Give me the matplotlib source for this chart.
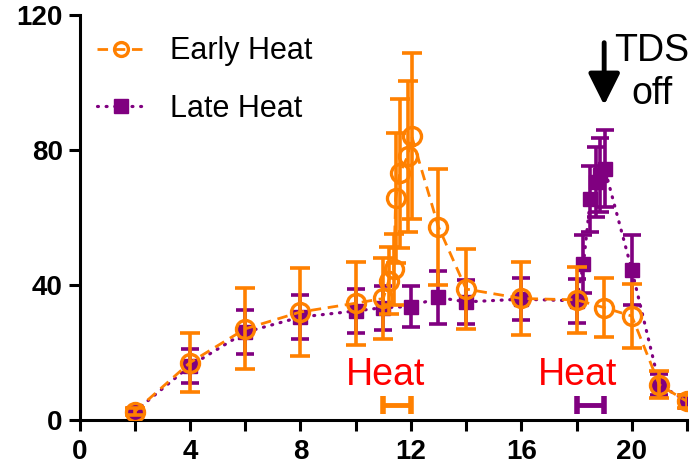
import matplotlib
matplotlib.use("Agg")
import matplotlib.pyplot as plt
from matplotlib.lines import Line2D

plt.rcParams['font.family'] = ['Liberation Sans', 'DejaVu Sans']

# Early heat series (heat applied 11-12)
early_x = [2, 4, 6, 8, 10, 11, 11.2, 11.38, 11.45, 11.6, 11.88, 12.03, 13, 14, 16, 18, 19, 20, 21, 22]
early_y = [2.5, 17, 27, 32, 34.6, 36, 41.3, 44.6, 65.7, 73.1, 78.1, 84.1, 57.2, 38.8, 36, 35.6, 33.3, 30.8, 10.4, 5.5]
early_err = [1, 8.7, 12, 13, 12.3, 12, 10, 10.6, 19.3, 22, 22.4, 24.6, 17.2, 11.8, 10.8, 9.7, 8.8, 9.6, 4, 2]

# Late heat series (heat applied 18-19)
late_x = [2, 4, 6, 8, 10, 11, 12, 13, 14, 16, 18, 18.25, 18.5, 18.7, 18.85, 19.02, 20, 21, 22]
late_y = [2.5, 16, 26, 30.5, 32.3, 33.3, 33.6, 36.3, 35, 35.8, 35.3, 46.3, 65.5, 70.5, 72.5, 74.5, 44.5, 10.5, 5.5]
late_err = [1, 5, 6.5, 6.5, 6.5, 6.5, 6, 7.8, 6.6, 6.2, 6.5, 8.6, 9.8, 10.5, 11, 11.5, 10.4, 3, 2]

# Heat windows
early_heat = (11, 12)
late_heat = (18, 19)
heat_bar_y = 4.5

x_ticks = [0, 4, 8, 12, 16, 20]
x_minor = [2, 6, 10, 14, 18, 22]
y_ticks = [0, 40, 80, 120]

ORANGE = '#FF8000'
PURPLE = '#800080'

fig = plt.figure(figsize=(6.95, 4.72), dpi=100)
ax = fig.add_axes([0.1144, 0.1102, 0.8741, 0.8580])

# Late heat (drawn first, sits underneath)
ax.errorbar(late_x, late_y, yerr=late_err, fmt='none', ecolor=PURPLE,
            elinewidth=2.6, capsize=6.5, capthick=2.6, zorder=2)
ax.plot(late_x, late_y, color=PURPLE, lw=2.3, dashes=(0.3, 2.4),
        dash_capstyle='round', marker='s', ms=10, mfc=PURPLE, mec=PURPLE, zorder=3)

# Early heat
ax.errorbar(early_x, early_y, yerr=early_err, fmt='none', ecolor=ORANGE,
            elinewidth=2.6, capsize=7, capthick=2.6, zorder=4)
ax.plot(early_x, early_y, color=ORANGE, lw=2.0, dashes=(3.8, 2.4),
        marker='o', ms=13, mfc='none', mec=ORANGE, mew=2.4, zorder=5)

# Heat windows
for (a, b), c in [(early_heat, ORANGE), (late_heat, PURPLE)]:
    ax.errorbar([(a + b) / 2], [heat_bar_y], xerr=[(b - a) / 2], fmt='none',
                ecolor=c, elinewidth=3.5, capsize=6.5, capthick=4, zorder=4)
ax.text(11.1, 10.4, 'Heat', color='#FF0000', fontsize=27, ha='center', va='baseline')
ax.text(18.05, 10.4, 'Heat', color='#FF0000', fontsize=27, ha='center', va='baseline')

# TDS off marker
ax.annotate('', xy=(19.0, 93.3), xytext=(19.0, 111.8),
            arrowprops=dict(arrowstyle='-|>,head_length=0.4,head_width=0.2',
                            color='black', lw=3.5, mutation_scale=48,
                            shrinkA=0, shrinkB=0), annotation_clip=False)
ax.text(20.72, 106.5, 'TDS', fontsize=27, ha='center', va='baseline')
ax.text(20.72, 93.5, 'off', fontsize=27, ha='center', va='baseline')

ax.set_xlim(0, 22)
ax.set_ylim(0, 120)
ax.set_xticks(x_ticks)
ax.set_xticks(x_minor, minor=True)
ax.set_yticks(y_ticks)
ax.tick_params(axis='both', which='major', width=2.2, length=8, labelsize=20)
ax.tick_params(axis='x', which='major', pad=6)
ax.tick_params(axis='y', which='major', pad=4)
ax.tick_params(axis='x', which='minor', width=2.2, length=8)
for lab in ax.get_xticklabels() + ax.get_yticklabels():
    lab.set_fontweight('bold')
for s in ['top', 'right']:
    ax.spines[s].set_visible(False)
for s in ['left', 'bottom']:
    ax.spines[s].set_linewidth(2.2)

handles = [
    Line2D([], [], color=ORANGE, lw=2.0, dashes=(3.8, 2.4), marker='o', ms=10,
           mfc='none', mec=ORANGE, mew=2.4),
    Line2D([], [], color=PURPLE, lw=2.3, dashes=(0.3, 2.4), dash_capstyle='round',
           marker='s', ms=10, mfc=PURPLE, mec=PURPLE),
]
ax.legend(handles, ['Early Heat', 'Late Heat'], loc='upper left',
          bbox_to_anchor=(0.028, 0.947), frameon=False, fontsize=22,
          handlelength=1.6, handletextpad=0.8, labelspacing=0.9,
          borderpad=0, borderaxespad=0)

fig.savefig('out.png', dpi=100)
